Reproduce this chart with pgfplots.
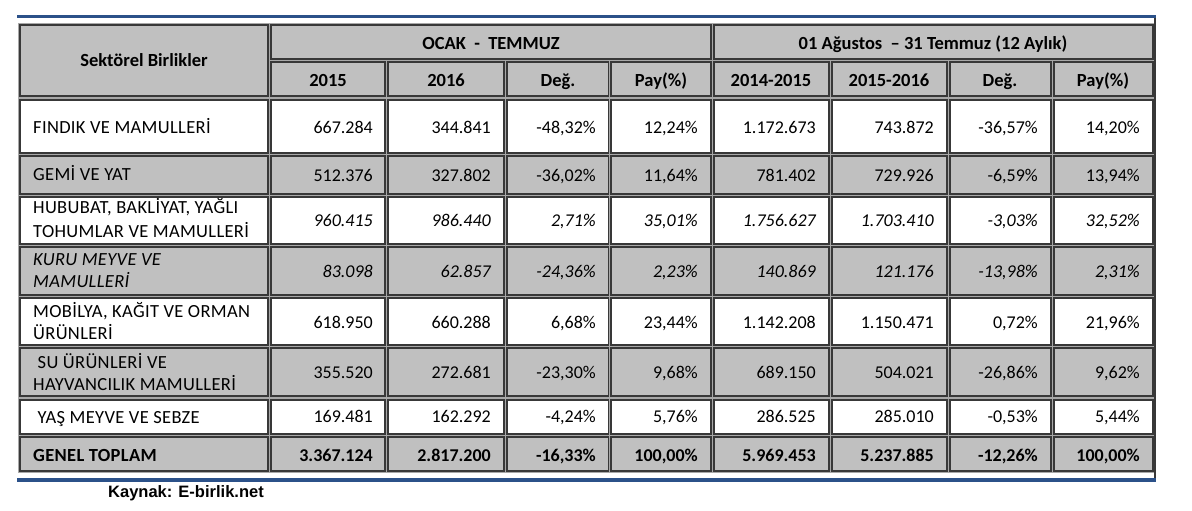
\documentclass[border=0pt]{standalone}
\usepackage{pgfplots}
\pgfplotsset{compat=1.18}
\usepackage{pgfplotstable}
\usepackage{fontspec}
\setmainfont{Carlito}
\newfontfamily\lab[LetterSpace=1.8]{Carlito}
\newfontfamily\arialfont{Liberation Sans}
\definecolor{cellgray}{HTML}{C0C0C0}
\definecolor{rulblue}{HTML}{2B5189}
\definecolor{bordr}{HTML}{383838}
\definecolor{lightb}{HTML}{A8A8A8}

% y = text baseline (pixels from top); a..h = the eight value columns
\pgfplotstableread{
y a b c d e f g h
133 667.284 344.841 -48,32 12,24 1.172.673 743.872 -36,57 14,20
181 512.376 327.802 -36,02 11,64 781.402 729.926 -6,59 13,94
328 618.950 660.288 6,68 23,44 1.142.208 1.150.471 0,72 21,96
378 355.520 272.681 -23,30 9,68 689.150 504.021 -26,86 9,62
422.5 169.481 162.292 -4,24 5,76 286.525 285.010 -0,53 5,44
}\normalrows
\pgfplotstableread{
y a b c d e f g h
226 960.415 986.440 2,71 35,01 1.756.627 1.703.410 -3,03 32,52
277 83.098 62.857 -24,36 2,23 140.869 121.176 -13,98 2,31
}\italicrows
\pgfplotstableread{
y a b c d e f g h
461 3.367.124 2.817.200 -16,33 100,00 5.969.453 5.237.885 -12,26 100,00
}\totalrow

\newcommand\cell[5]{%
\addplot[draw=lightb, line width=0.8pt, fill=none] coordinates {(#1-1.3,#2-1.3) (#3+1.3,#2-1.3) (#3+1.3,#4+1.3) (#1-1.3,#4+1.3)} -- cycle;
\addplot[fill=#5, draw=bordr, line width=1.4pt] coordinates {(#1,#2) (#3,#2) (#3,#4) (#1,#4)} -- cycle;}
\newcommand\rowcells[3]{%
\cell{20}{#1}{268}{#2}{#3}\cell{271}{#1}{385}{#2}{#3}\cell{388}{#1}{504}{#2}{#3}%
\cell{507}{#1}{609}{#2}{#3}\cell{611}{#1}{711}{#2}{#3}\cell{714}{#1}{829}{#2}{#3}%
\cell{832}{#1}{947}{#2}{#3}\cell{950}{#1}{1051}{#2}{#3}\cell{1054}{#1}{1153}{#2}{#3}}
\newcommand\numcol[5]{%
\addplot[only marks, mark=none, point meta=explicit symbolic,
  nodes near coords={\pgfplotspointmeta#5},
  every node near coord/.append style={anchor=base east, inner sep=0pt, font=#4}]
  table[x expr=#3, y=y, meta=#2] {#1};}
\newcommand\allcols[2]{%
\numcol{#1}{a}{373}{#2}{}\numcol{#1}{b}{491}{#2}{}\numcol{#1}{c}{596}{#2}{\%}\numcol{#1}{d}{698}{#2}{\%}%
\numcol{#1}{e}{816}{#2}{}\numcol{#1}{f}{934}{#2}{}\numcol{#1}{g}{1038}{#2}{\%}\numcol{#1}{h}{1140}{#2}{\%}}

\begin{document}
\begin{tikzpicture}
\begin{axis}[width=1192pt, height=511pt, scale only axis,
  xmin=0, xmax=1192, ymin=0, ymax=511, y dir=reverse,
  hide axis, clip=false]
\addplot[draw=none, fill=white] coordinates {(0,0) (1192,0) (1192,511) (0,511)} -- cycle;
% blue rules
\addplot[rulblue, line width=3.5pt] coordinates {(17,16.5) (1156,16.5)};
\addplot[rulblue, line width=3.5pt] coordinates {(17,480) (1156,480)};
% header cells
\cell{20}{25}{268}{96}{cellgray}
\cell{271}{25}{711}{59}{cellgray}
\cell{714}{25}{1153}{59}{cellgray}
\cell{271}{62}{385}{96}{cellgray}\cell{388}{62}{504}{96}{cellgray}
\cell{507}{62}{609}{96}{cellgray}\cell{611}{62}{711}{96}{cellgray}
\cell{714}{62}{829}{96}{cellgray}\cell{832}{62}{947}{96}{cellgray}
\cell{950}{62}{1051}{96}{cellgray}\cell{1054}{62}{1153}{96}{cellgray}
% body cells
\rowcells{100}{153}{white}
\rowcells{156}{194}{cellgray}
\rowcells{197}{244}{white}
\rowcells{247}{295}{cellgray}
\rowcells{298}{345}{white}
\rowcells{348}{396}{cellgray}
\rowcells{400}{434}{white}
\rowcells{437}{471}{cellgray}
\addplot[bordr, line width=1.4pt] coordinates {(1155,18) (1155,478)};
% values
\allcols{\normalrows}{\fontsize{18}{22}\selectfont}
\allcols{\italicrows}{\fontsize{18}{22}\selectfont\itshape}
\allcols{\totalrow}{\fontsize{18}{22}\selectfont\bfseries}
% header texts
\begin{scope}[every node/.style={inner sep=0pt, anchor=base, font=\fontsize{18.5}{22}\selectfont\bfseries}]
\node at (axis cs:144,66.7) {Sektörel Birlikler};
\node at (axis cs:491,49.3) {OCAK\ \ -\ \ TEMMUZ};
\node at (axis cs:933,49.3) {01 Ağustos\ \ – 31 Temmuz (12 Aylık)};
\node at (axis cs:328,86) {2015};
\node at (axis cs:446,86) {2016};
\node at (axis cs:558,86) {Değ.};
\node at (axis cs:661,86) {Pay(\%)};
\node at (axis cs:771,86) {2014-2015};
\node at (axis cs:889,86) {2015-2016};
\node at (axis cs:1000,86) {Değ.};
\node at (axis cs:1103,86) {Pay(\%)};
\end{scope}
% row labels (base anchor = baseline of the last line)
\begin{scope}[every node/.style={inner sep=0pt, anchor=base west, align=left, font=\lab\fontsize{18.5}{22}\selectfont}]
\node at (axis cs:33,133) {FINDIK VE MAMULLERİ};
\node at (axis cs:33,180.5) {GEMİ VE YAT};
\node[font=\lab\fontsize{18.5}{23.5}\selectfont] at (axis cs:33,237) {HUBUBAT, BAKLİYAT, YAĞLI\\TOHUMLAR VE MAMULLERİ};
\node[font=\lab\fontsize{18.5}{22}\selectfont\itshape] at (axis cs:33,287) {KURU MEYVE VE\\MAMULLERİ};
\node at (axis cs:33,339) {MOBİLYA, KAĞIT VE ORMAN\\ÜRÜNLERİ};
\node at (axis cs:33,390.5) {\ SU ÜRÜNLERİ VE\\HAYVANCILIK MAMULLERİ};
\node at (axis cs:33,423.5) {\ YAŞ MEYVE VE SEBZE};
\node[font=\lab\fontsize{18.5}{22}\selectfont\bfseries] at (axis cs:33,461) {GENEL TOPLAM};
\end{scope}
\node[anchor=base west, inner sep=0pt, font=\arialfont\bfseries\fontsize{16.5}{20}\selectfont] at (axis cs:108,497) {Kaynak: E-birlik.net};
\end{axis}
\end{tikzpicture}
\end{document}
